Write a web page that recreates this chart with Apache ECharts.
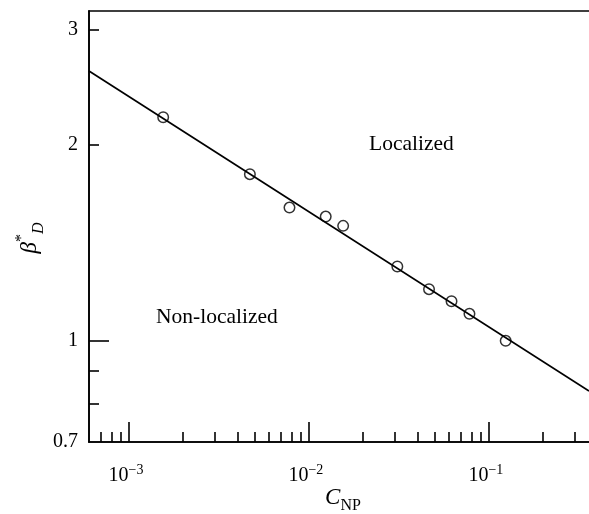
<!DOCTYPE html>
<html>
<head>
<meta charset="utf-8">
<script src="https://cdn.jsdelivr.net/npm/echarts@6/dist/echarts.min.js"></script>
<style>
html,body{margin:0;padding:0;background:#fff;}
#chart{width:589px;height:514px;}
</style>
</head>
<body>
<div id="chart"></div>
<script>
// measured points (C_NP, beta*_D)
var cnp = [1.55e-3, 4.7e-3, 7.8e-3, 1.24e-2, 1.55e-2, 3.1e-2, 4.65e-2, 6.2e-2, 7.8e-2, 0.124];
var beta = [2.2, 1.8, 1.6, 1.55, 1.5, 1.3, 1.2, 1.15, 1.1, 1.0];
// fitted line, end points
var fitX = [6e-4, 0.36];
var fitY = [2.59, 0.838];
// axis ranges and ticks
var xRange = [6e-4, 0.36];
var yRange = [0.7, 3.2];
var xMajor = [1e-3, 1e-2, 1e-1];
var xMinor = [7e-4, 8e-4, 9e-4, 2e-3, 3e-3, 4e-3, 5e-3, 6e-3, 7e-3, 8e-3, 9e-3,
              2e-2, 3e-2, 4e-2, 5e-2, 6e-2, 7e-2, 8e-2, 9e-2, 2e-1, 3e-1];
var yLabels = [0.7, 1, 2, 3];
var yMajor = [1];
var yMinor = [0.8, 0.9, 2, 3];

var lg = function(v){ return Math.log10(v); };
var FONT = 'Liberation Serif';
var LW = 1.6;

function pairs(xs, ys){
    var out = [];
    for(var i=0;i<xs.length;i++){
        out.push([lg(xs[i]), lg(ys[i])]);
    }
    return out;
}

var myChart = echarts.init(document.getElementById('chart'));

var xBase = {
    type: 'value',
    min: lg(xRange[0]),
    max: lg(xRange[1]),
    splitLine: {show: false},
    axisLine: {show: true, onZero: false, lineStyle: {color: '#000', width: LW}}
};
var yBase = {
    type: 'value',
    min: lg(yRange[0]),
    max: lg(yRange[1]),
    splitLine: {show: false},
    axisLine: {show: true, onZero: false, lineStyle: {color: '#000', width: LW}}
};

var option = {
    backgroundColor: '#fff',
    animation: false,
    grid: {left: 89, top: 11, right: 0, bottom: 72}
};

option.xAxis = [
    Object.assign({}, xBase, {
        position: 'bottom',
        axisTick: {show: true, inside: true, length: 20, customValues: xMajor.map(lg),
                   lineStyle: {color: '#000', width: LW}},
        axisLabel: {
            show: true, margin: 21, customValues: xMajor.map(lg),
            formatter: function(v){
                return '{b|10}{s|\u2212' + Math.round(-v) + '}';
            },
            rich: {
                b: {fontFamily: FONT, fontSize: 20, color: '#000', verticalAlign: 'bottom', padding: [0,0,0,0]},
                s: {fontFamily: FONT, fontSize: 14, color: '#000', verticalAlign: 'bottom', padding: [0,6,9,0]}
            }
        }
    }),
    Object.assign({}, xBase, {
        position: 'bottom',
        axisTick: {show: true, inside: true, length: 10, customValues: xMinor.map(lg),
                   lineStyle: {color: '#000', width: LW}},
        axisLabel: {show: false}
    }),
    Object.assign({}, xBase, {
        position: 'top',
        axisTick: {show: false},
        axisLabel: {show: false}
    })
];

option.yAxis = [
    Object.assign({}, yBase, {
        position: 'left',
        axisTick: {show: true, inside: true, length: 20, customValues: yMajor.map(lg),
                   lineStyle: {color: '#000', width: LW}},
        axisLabel: {
            show: true, margin: 11, customValues: yLabels.map(lg),
            fontFamily: FONT, fontSize: 20, color: '#000',
            formatter: function(v){
                var n = Math.pow(10, v);
                return String(Math.round(n * 10) / 10);
            }
        }
    }),
    Object.assign({}, yBase, {
        position: 'left',
        axisTick: {show: true, inside: true, length: 10, customValues: yMinor.map(lg),
                   lineStyle: {color: '#000', width: LW}},
        axisLabel: {show: false}
    })
];

option.series = [
    {
        type: 'line',
        xAxisIndex: 0, yAxisIndex: 0,
        data: pairs(fitX, fitY),
        showSymbol: false,
        symbol: 'none',
        lineStyle: {color: '#000', width: 1.7}
    },
    {
        type: 'scatter',
        xAxisIndex: 0, yAxisIndex: 0,
        data: pairs(cnp, beta),
        symbol: 'circle',
        symbolSize: 10.5,
        itemStyle: {color: 'rgba(0,0,0,0)', borderColor: '#000', borderWidth: 1.5}
    }
];

option.graphic = [
    {
        type: 'text', left: 369, top: 133,
        style: {text: 'Localized', fontFamily: FONT, fontSize: 21.5, fill: '#000'}
    },
    {
        type: 'text', left: 156, top: 306,
        style: {text: 'Non-localized', fontFamily: FONT, fontSize: 21.5, fill: '#000'}
    },
    {
        type: 'text', x: 343, y: 500,
        style: {
            text: '{c|C}{n|NP}', align: 'center', verticalAlign: 'middle',
            rich: {
                c: {fontFamily: FONT, fontSize: 23, fontStyle: 'italic', fill: '#000', verticalAlign: 'bottom', padding: [0,0,5,0]},
                n: {fontFamily: FONT, fontSize: 16, fill: '#000', verticalAlign: 'bottom', padding: [0,0,0,0]}
            }
        }
    },
    {
        type: 'text', x: 30, y: 238, rotation: Math.PI / 2,
        style: {
            text: '{b|\u03b2}{s|*}{d|D}', align: 'center', verticalAlign: 'middle',
            rich: {
                b: {fontFamily: FONT, fontSize: 23, fontStyle: 'italic', fill: '#000', verticalAlign: 'bottom', padding: [0,0,5,0]},
                s: {fontFamily: FONT, fontSize: 16, fill: '#000', verticalAlign: 'bottom', padding: [0,0,17,0]},
                d: {fontFamily: FONT, fontSize: 16, fontStyle: 'italic', fill: '#000', verticalAlign: 'bottom', padding: [0,0,0,0]}
            }
        }
    }
];

myChart.setOption(option);
</script>
</body>
</html>
